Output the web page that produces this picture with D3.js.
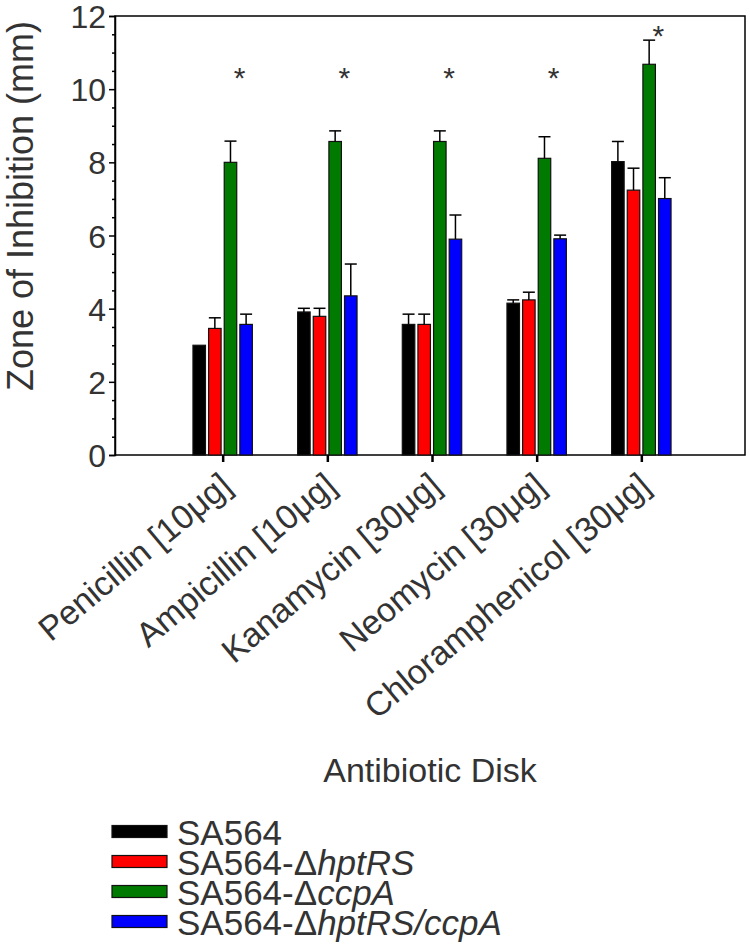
<!DOCTYPE html>
<html>
<head>
<meta charset="utf-8">
<script src="https://cdn.jsdelivr.net/npm/d3@7"></script>
<style>
  body { margin: 0; background: #fff; }
  text { font-family: Arial, "Liberation Sans", sans-serif; fill: #333; }
</style>
</head>
<body>
<div id="chart"></div>
<script>
var width = 750;
var height = 945;

// data
var categories = ["Penicillin [10\u03bcg]", "Ampicillin [10\u03bcg]", "Kanamycin [30\u03bcg]", "Neomycin [30\u03bcg]", "Chloramphenicol [30\u03bcg]"];
var strains = ["SA564", "SA564-\u0394hptRS", "SA564-\u0394ccpA", "SA564-\u0394hptRS/ccpA"];
var colors = ["#000000", "#ff0000", "#007a00", "#0000ff"];

var meanWT    = [3.00, 3.91, 3.57, 4.15, 8.02];
var meanHpt   = [3.46, 3.79, 3.57, 4.24, 7.24];
var meanCcpA  = [8.00, 8.57, 8.57, 8.11, 10.68];
var meanDbl   = [3.57, 4.35, 5.90, 5.91, 7.01];

var errWT    = [0.00, 0.10, 0.28, 0.09, 0.55];
var errHpt   = [0.29, 0.22, 0.28, 0.21, 0.60];
var errCcpA  = [0.58, 0.29, 0.29, 0.59, 0.66];
var errDbl   = [0.28, 0.87, 0.66, 0.10, 0.57];

// significance stars (y value in mm)
var starY = [10.5, 10.5, 10.5, 10.5, 11.65];

var yTicks = [0, 2, 4, 6, 8, 10, 12];

var means = [meanWT, meanHpt, meanCcpA, meanDbl];
var errs = [errWT, errHpt, errCcpA, errDbl];

var rows = [];
categories.forEach(function(c, i) {
  strains.forEach(function(s, j) {
    rows.push({cat: c, strain: s, idx: j, value: means[j][i], err: errs[j][i]});
  });
});

var plotL = 115, plotR = 745, plotT = 16, plotB = 455;

var svg = d3.select("#chart").append("svg")
    .attr("width", width)
    .attr("height", height);

var x = d3.scalePoint()
    .domain(categories)
    .range([118, 746])
    .padding(1);

var xInner = d3.scaleBand()
    .domain(strains)
    .range([-29.7, 29.7])
    .paddingInner(0.2);

var y = d3.scaleLinear()
    .domain([0, 12])
    .range([plotB, plotT]);

// frame
svg.append("rect")
    .attr("x", plotL).attr("y", plotT)
    .attr("width", plotR - plotL).attr("height", plotB - plotT)
    .attr("fill", "none")
    .attr("stroke", "#000")
    .attr("stroke-width", 1.5);

// bars
var bars = svg.append("g");
bars.selectAll("rect")
    .data(rows)
    .enter().append("rect")
      .attr("x", function(d) { return x(d.cat) + xInner(d.strain); })
      .attr("y", function(d) { return y(d.value); })
      .attr("width", xInner.bandwidth())
      .attr("height", function(d) { return y(0) - y(d.value); })
      .attr("fill", function(d) { return colors[d.idx]; })
      .attr("stroke", "#111")
      .attr("stroke-width", 1.2);

// error bars (upper only)
var eb = svg.append("g").attr("stroke", "#000").attr("stroke-width", 1.5);
rows.filter(function(d) { return d.err > 0; }).forEach(function(d) {
  var cx = x(d.cat) + xInner(d.strain) + xInner.bandwidth() / 2;
  eb.append("line")
      .attr("x1", cx).attr("x2", cx)
      .attr("y1", y(d.value)).attr("y2", y(d.value + d.err));
  eb.append("line")
      .attr("x1", cx - 6).attr("x2", cx + 6)
      .attr("y1", y(d.value + d.err)).attr("y2", y(d.value + d.err));
});

// stars
svg.append("g").selectAll("text")
    .data(categories)
    .enter().append("text")
      .attr("x", function(d) { return x(d) + 17; })
      .attr("y", function(d, i) { return y(starY[i]) + 17; })
      .attr("text-anchor", "middle")
      .attr("font-size", 30)
      .text("*");

// y axis
var yAxis = svg.append("g")
    .attr("transform", "translate(" + plotL + ",0)")
    .call(d3.axisLeft(y).tickValues(yTicks).tickSize(6).tickPadding(3));
yAxis.select(".domain").attr("stroke-width", 1.5);
yAxis.selectAll(".tick line").attr("stroke-width", 1.5);
yAxis.selectAll(".tick text")
    .attr("font-size", 32)
    .attr("fill", "#333")
    .attr("dy", "0.36em");

var yMinor = svg.append("g")
    .attr("transform", "translate(" + plotL + ",0)")
    .call(d3.axisLeft(y)
      .tickValues(d3.range(0, 12.01, 0.5).filter(function(v) { return v % 2 !== 0; }))
      .tickSize(3).tickFormat(""));
yMinor.select(".domain").remove();
yMinor.selectAll(".tick line").attr("stroke-width", 1.5);

// x axis ticks
var xAxis = svg.append("g")
    .attr("transform", "translate(0," + plotB + ")")
    .call(d3.axisBottom(x).tickSize(7).tickFormat(""));
xAxis.select(".domain").remove();
xAxis.selectAll(".tick line").attr("stroke-width", 2.5);

// category labels
svg.append("g").selectAll("text")
    .data(categories)
    .enter().append("text")
      .attr("transform", function(d) { return "translate(" + (x(d) + 11) + "," + 489 + ") rotate(-40)"; })
      .attr("text-anchor", "end")
      .attr("font-size", 34)
      .text(function(d) { return d; });

// axis titles
svg.append("text")
    .attr("transform", "translate(33,206) rotate(-90)")
    .attr("text-anchor", "middle")
    .attr("font-size", 36)
    .text("Zone of Inhibition (mm)");

svg.append("text")
    .attr("x", 430)
    .attr("y", 782)
    .attr("text-anchor", "middle")
    .attr("font-size", 34)
    .text("Antibiotic Disk");

// legend
var legendParts = [
  [["SA564", false]],
  [["SA564-\u0394", false], ["hptRS", true]],
  [["SA564-\u0394", false], ["ccpA", true]],
  [["SA564-\u0394", false], ["hptRS/ccpA", true]]
];

var legend = svg.append("g");
legendParts.forEach(function(parts, i) {
  var ly = 831.5 + i * 30;
  legend.append("rect")
      .attr("x", 112).attr("y", ly - 6)
      .attr("width", 55).attr("height", 12)
      .attr("fill", colors[i])
      .attr("stroke", "#111")
      .attr("stroke-width", 1.2);
  var t = legend.append("text")
      .attr("x", 177).attr("y", ly + 13.5)
      .attr("font-size", 35);
  parts.forEach(function(p) {
    t.append("tspan")
        .attr("font-style", p[1] ? "italic" : "normal")
        .text(p[0]);
  });
});
</script>
</body>
</html>
